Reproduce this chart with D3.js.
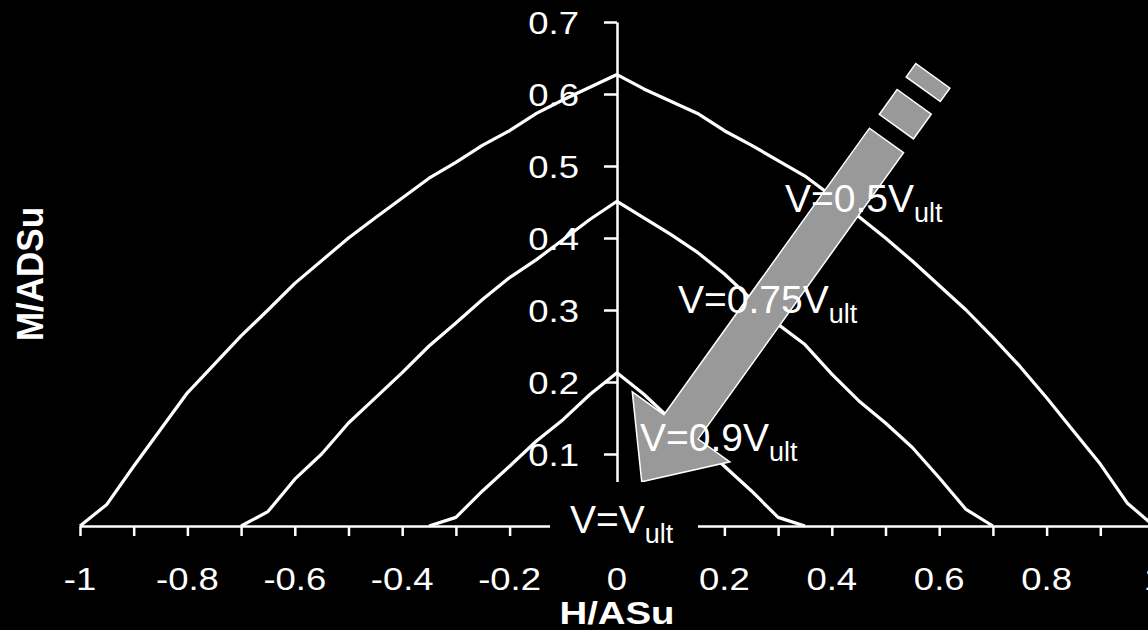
<!DOCTYPE html>
<html>
<head>
<meta charset="utf-8">
<script src="https://cdn.jsdelivr.net/npm/d3@7"></script>
<style>
  html, body { margin: 0; padding: 0; background: #000; }
  svg { display: block; }
  text { font-family: "Liberation Sans", Arial, sans-serif; fill: #fff; }
</style>
</head>
<body>
<svg id="chart" width="1148" height="630"></svg>
<script>
// Moment–shear interaction envelopes (M/ADSu against H/ASu) for three shear levels
const hOuter = [-1, -0.95, -0.9, -0.85, -0.8, -0.7, -0.65, -0.6, -0.5, -0.45, -0.35, -0.3, -0.25, -0.2, -0.15, -0.1, 0,
                0.05, 0.1, 0.15, 0.2, 0.25, 0.35, 0.45, 0.5, 0.55, 0.65, 0.7, 0.75, 0.8, 0.85, 0.9, 0.95, 1];
const mOuter = [0, 0.03, 0.083, 0.134, 0.185, 0.264, 0.30, 0.337, 0.40, 0.428, 0.483, 0.505, 0.529, 0.549, 0.573, 0.592, 0.627,
                0.607, 0.59, 0.573, 0.549, 0.529, 0.486, 0.43, 0.40, 0.368, 0.30, 0.262, 0.222, 0.178, 0.132, 0.086, 0.032, 0];

const hMiddle = [-0.7, -0.65, -0.6, -0.55, -0.5, -0.45, -0.4, -0.35, -0.3, -0.25, -0.2, -0.15, -0.1, -0.05, 0,
                 0.05, 0.1, 0.15, 0.2, 0.25, 0.3, 0.35, 0.4, 0.45, 0.5, 0.55, 0.6, 0.65, 0.7];
const mMiddle = [0, 0.02, 0.065, 0.10, 0.143, 0.178, 0.213, 0.25, 0.282, 0.315, 0.345, 0.37, 0.398, 0.426, 0.451,
                 0.428, 0.405, 0.38, 0.35, 0.315, 0.28, 0.252, 0.211, 0.174, 0.143, 0.109, 0.067, 0.023, 0];

const hInner = [-0.35, -0.3, -0.25, -0.2, -0.15, -0.1, -0.05, 0, 0.05, 0.1, 0.15, 0.2, 0.25, 0.3, 0.35];
const mInner = [0, 0.012, 0.049, 0.083, 0.118, 0.148, 0.183, 0.213, 0.183, 0.148, 0.118, 0.083, 0.049, 0.012, 0];

// Axis ticks and labels
const xTickValues = d3.range(-10, 11).map(i => i / 10);
const xLabelValues = [-1, -0.8, -0.6, -0.4, -0.2, 0, 0.2, 0.4, 0.6, 0.8, 1];
const xLabelText = ["-1", "-0.8", "-0.6", "-0.4", "-0.2", "0", "0.2", "0.4", "0.6", "0.8", "1"];
const yTickValues = [0.1, 0.2, 0.3, 0.4, 0.5, 0.6, 0.7];
const yLabelText = ["0.1", "0.2", "0.3", "0.4", "0.5", "0.6", "0.7"];

// Shear level annotations
const levelMain = ["V=0.5V", "V=0.75V", "V=0.9V", "V=V"];
const levelSub = ["ult", "ult", "ult", "ult"];

const svg = d3.select("#chart");
svg.append("rect").attr("width", 1148).attr("height", 630).attr("fill", "#000");

const x = d3.scaleLinear().domain([-1, 1]).range([80, 1154]);
const y = d3.scaleLinear().domain([0, 0.7]).range([526, 22]);

const line = d3.line().x(d => x(d[0])).y(d => y(d[1]));
const series = [
  d3.zip(hOuter, mOuter),
  d3.zip(hMiddle, mMiddle),
  d3.zip(hInner, mInner)
];

// Labels are drawn slightly widened
const wide = 1.14;

// X axis
const xAxis = d3.axisBottom(x)
  .tickValues(xTickValues)
  .tickSize(10)
  .tickSizeOuter(0)
  .tickFormat(() => "");
const gx = svg.append("g").attr("transform", `translate(0,${y(0)})`).call(xAxis);
gx.select(".domain").attr("stroke", "#fff").attr("stroke-width", 2.5);
gx.selectAll(".tick line").attr("stroke", "#fff").attr("stroke-width", 2.5);

svg.append("g").selectAll("text")
  .data(xLabelValues)
  .join("text")
  .attr("transform", d => `translate(${x(d)},590) scale(${wide},1)`)
  .attr("text-anchor", "middle")
  .attr("font-size", 32)
  .text((d, i) => xLabelText[i]);

// Y axis at H = 0
const yAxis = d3.axisLeft(y)
  .tickValues(yTickValues)
  .tickSize(13)
  .tickSizeOuter(0)
  .tickFormat(() => "");
const gy = svg.append("g").attr("transform", `translate(${x(0)},0)`).call(yAxis);
gy.select(".domain").attr("stroke", "#fff").attr("stroke-width", 2.5);
gy.selectAll(".tick line").attr("stroke", "#fff").attr("stroke-width", 2.5);

svg.append("g").selectAll("text")
  .data(yTickValues)
  .join("text")
  .attr("transform", d => `translate(579,${y(d) + 12}) scale(${wide},1)`)
  .attr("text-anchor", "end")
  .attr("font-size", 32)
  .text((d, i) => yLabelText[i]);

// Axis titles
svg.append("text")
  .attr("transform", `translate(${x(0)},624) scale(1.2,1)`)
  .attr("text-anchor", "middle")
  .attr("font-size", 32).attr("font-weight", "bold")
  .text("H/ASu");
svg.append("text")
  .attr("transform", "translate(43,274) scale(1.08,1) rotate(-90)")
  .attr("text-anchor", "middle")
  .attr("font-size", 35).attr("font-weight", "bold")
  .text("M/ADSu");

// Envelope curves
svg.append("g").selectAll("path")
  .data(series)
  .join("path")
  .attr("d", line)
  .attr("fill", "none")
  .attr("stroke", "#fff")
  .attr("stroke-width", 3.2)
  .attr("stroke-linejoin", "round");

// Striped block arrow showing increasing shear
const arrow = svg.append("g").attr("transform", "translate(641.7,481.7) rotate(125.65)");
const arrowStyle = sel => sel.attr("fill", "#999").attr("stroke", "#fff").attr("stroke-width", 1.5);
arrow.append("path")
  .attr("d", "M0,0 L-67.5,-60 L-67.5,-21 L-420,-21 L-420,21 L-67.5,21 L-67.5,60 Z")
  .call(arrowStyle);
arrow.append("rect").attr("x", -467.5).attr("y", -21).attr("width", 30.5).attr("height", 42).call(arrowStyle);
arrow.append("rect").attr("x", -499.5).attr("y", -21).attr("width", 16.5).attr("height", 42).call(arrowStyle);

// Backing box behind the V=Vult label at the origin
svg.append("rect").attr("x", 550).attr("y", 482).attr("width", 148).attr("height", 66).attr("fill", "#000");

const labelPos = [[785, 212], [678, 313], [640, 451], [570, 533]];
const lg = svg.append("g");
levelMain.forEach((t, i) => {
  const txt = lg.append("text")
    .attr("x", labelPos[i][0]).attr("y", labelPos[i][1])
    .attr("font-size", 39);
  txt.append("tspan").text(t);
  txt.append("tspan").attr("font-size", 27).attr("dy", 10).text(levelSub[i]);
});
</script>
</body>
</html>
